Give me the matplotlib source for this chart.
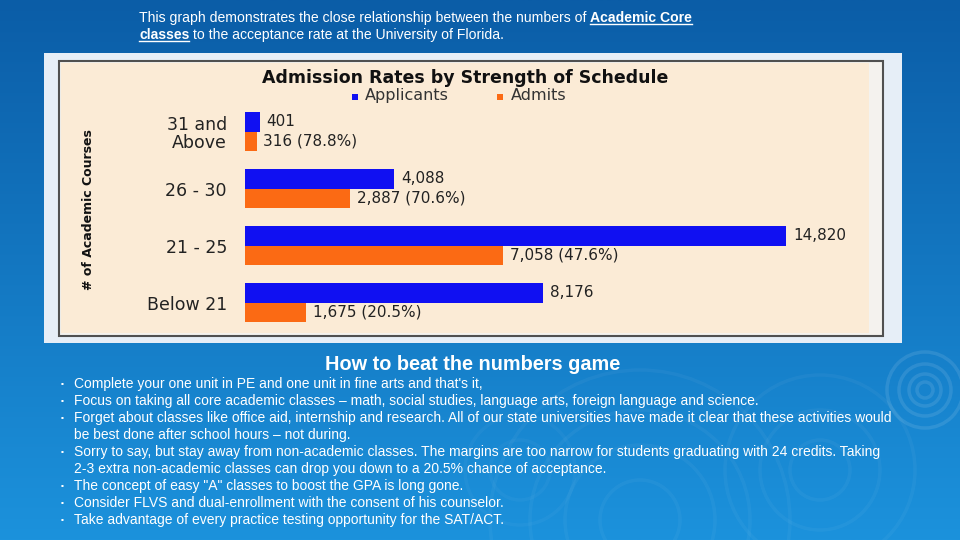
import matplotlib
matplotlib.use('Agg')
import matplotlib.pyplot as plt
import numpy as np
from matplotlib.patches import Rectangle, Ellipse
from matplotlib.lines import Line2D

# ---------------- data ----------------
categories = ["31 and\nAbove", "26 - 30", "21 - 25", "Below 21"]
applicants = [401, 4088, 14820, 8176]
admits = [316, 2887, 7058, 1675]
admit_pct = [78.8, 70.6, 47.6, 20.5]
series_names = ["Applicants", "Admits"]
chart_title = "Admission Rates by Strength of Schedule"
y_label = "# of Academic Courses"

intro_parts_1 = [("This graph demonstrates the close relationship between the numbers of ", False),
                 ("Academic Core", True)]
intro_parts_2 = [("classes", True), (" to the acceptance rate at the University of Florida.", False)]
heading = "How to beat the numbers game"
bullets = [
    ["Complete your one unit in PE and one unit in fine arts and that's it,"],
    ["Focus on taking all core academic classes \u2013 math, social studies, language arts, foreign language and science."],
    ["Forget about classes like office aid, internship and research. All of our state universities have made it clear that these activities would",
     "be best done after school hours \u2013 not during."],
    ["Sorry to say, but stay away from non-academic classes. The margins are too narrow for students graduating with 24 credits. Taking",
     "2-3 extra non-academic classes can drop you down to a 20.5% chance of acceptance."],
    ["The concept of easy \"A\" classes to boost the GPA is long gone."],
    ["Consider FLVS and dual-enrollment with the consent of his counselor."],
    ["Take advantage of every practice testing opportunity for the SAT/ACT."],
]

W, H = 960, 540
fig = plt.figure(figsize=(9.6, 5.4), dpi=100)


def fx(px):
    return px / W


def fy(py):
    return 1 - py / H


# ---------------- slide background ----------------
bg = fig.add_axes([0, 0, 1, 1], zorder=0)
bg.set_axis_off()
g = np.linspace(0, 1, 256)[:, None, None]
top = np.array([0x0b, 0x5d, 0xa7]) / 255
bot = np.array([0x1c, 0x92, 0xdc]) / 255
img = top + (bot - top) * g
bg.imshow(img, aspect='auto', extent=[0, 1, 0, 1], origin='upper', zorder=0)
bg.set_xlim(0, 1)
bg.set_ylim(0, 1)

# faint decorative rings
for (cx, cy, radii, a) in [(925, 390, [8, 16, 26, 38], 0.10),
                           (640, 520, [40, 75, 110, 150], 0.04),
                           (820, 470, [30, 60, 95], 0.04),
                           (520, 470, [30, 55], 0.03)]:
    for r in radii:
        bg.add_patch(Ellipse((fx(cx), fy(cy)), 2 * r / W, 2 * r / H, fill=False,
                             ec='white', alpha=a, lw=2.5, zorder=1))

# chart frame
bg.add_patch(Rectangle((fx(44), fy(343)), fx(902) - fx(44), fy(53) - fy(343),
                       fc='#e6eef7', ec='none', zorder=2))
bg.add_patch(Rectangle((fx(59), fy(336)), fx(883) - fx(59), fy(61) - fy(336),
                       fc='#f4f2ee', ec='#505050', lw=1.5, zorder=3))
bg.add_patch(Rectangle((fx(61), fy(333)), fx(869) - fx(61), fy(63) - fy(333),
                       fc='#fbebd6', ec='none', zorder=4))

# ---------------- chart ----------------
c_app = '#1010f2'
c_adm = '#fb6a14'
ax_l, ax_r = 245, 869
ax_t, ax_b = 103.2, 331.0
ax = fig.add_axes([fx(ax_l), fy(ax_b), fx(ax_r) - fx(ax_l), fy(ax_t) - fy(ax_b)], zorder=5)
ax.set_facecolor('none')
ypos = np.arange(len(categories))
h = 0.34
ax.barh(ypos - h / 2, applicants, height=h, color=c_app, edgecolor='none')
ax.barh(ypos + h / 2, admits, height=h, color=c_adm, edgecolor='none')
ax.set_ylim(len(categories) - 0.5, -0.5)
ax.set_xlim(0, 14820 * (ax_r - ax_l) / (786 - ax_l))
for s in ax.spines.values():
    s.set_visible(False)
ax.set_xticks([])
ax.set_yticks(ypos)
ax.set_yticklabels(categories, fontsize=12.5, color='#222222', family='DejaVu Sans',
                   linespacing=1.0)
ax.tick_params(axis='y', length=0, pad=13)
for i in range(len(categories)):
    ax.annotate(f"{applicants[i]:,}", (applicants[i], i - h / 2), xytext=(5, 0),
                textcoords='offset points', va='center', ha='left', fontsize=11,
                color='#222222')
    ax.annotate(f"{admits[i]:,} ({admit_pct[i]}%)", (admits[i], i + h / 2), xytext=(5, 0),
                textcoords='offset points', va='center', ha='left', fontsize=11,
                color='#222222')

fig.text(fx(88), fy(210), y_label, rotation=90, ha='center', va='center',
         fontsize=9, fontweight='bold', color='#111111', zorder=6)
fig.text(fx(465), fy(78), chart_title, ha='center', va='center', fontsize=12.5,
         fontweight='bold', color='#111111', zorder=6)
# legend
for name, col, sx, tx in [(series_names[0], c_app, 355, 365), (series_names[1], c_adm, 500, 511)]:
    bg.add_patch(Rectangle((fx(sx - 3), fy(100)), 6 / W, 6 / H, fc=col, ec='none', zorder=6))
    fig.text(fx(tx), fy(95.5), name, ha='left', va='center', fontsize=11.5,
             color='#333333', zorder=6)

# ---------------- slide text ----------------
renderer = fig.canvas.get_renderer()
txt_family = ['Liberation Sans', 'DejaVu Sans']


def text_run(x, y, parts, size):
    for seg, bold in parts:
        t = fig.text(fx(x), fy(y), seg, ha='left', va='center', fontsize=size,
                     fontweight='bold' if bold else 'normal', color='white',
                     family=txt_family, zorder=6)
        bb = t.get_window_extent(renderer)
        if bold:
            fig.add_artist(Line2D([bb.x0 / W, bb.x1 / W], [bb.y0 / H + 1.5 / H] * 2,
                                  color='white', lw=1.0, zorder=6))
        x = bb.x1


text_run(139, 18, intro_parts_1, 10.1)
text_run(139, 35, intro_parts_2, 10.1)

fig.text(fx(472.5), fy(365), heading, ha='center', va='center', fontsize=14.3,
         fontweight='bold', color='white', family=txt_family, zorder=6)

yline = 384
step = 17
for b in bullets:
    fig.text(fx(62), fy(yline), "\u25aa", ha='center', va='center', fontsize=6,
             color='white', family=txt_family, zorder=6)
    for line in b:
        fig.text(fx(74), fy(yline), line, ha='left', va='center', fontsize=10.0,
                 color='white', family=txt_family, zorder=6)
        yline += step

fig.savefig('out.png', dpi=100)
